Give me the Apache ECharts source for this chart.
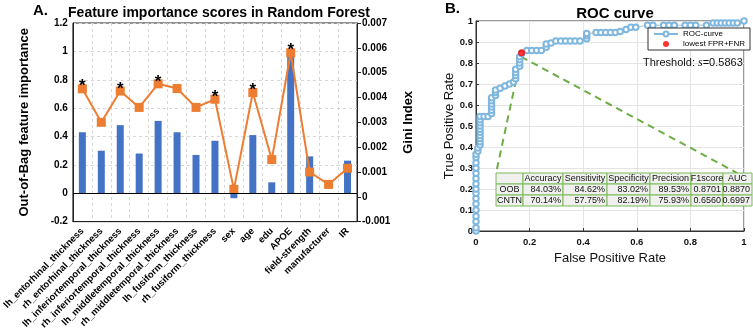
<!DOCTYPE html>
<html>
<head>
<meta charset="utf-8">
<script src="https://cdn.jsdelivr.net/npm/echarts@6/dist/echarts.min.js"></script>
<style>
  html, body { margin: 0; padding: 0; background: #fff; }
  #chart { width: 753px; height: 332px; }
</style>
</head>
<body>
<div id="chart"></div>
<script>
// panel A: feature importance
var featureNames = ['lh_entorhinal_thickness', 'rh_entorhinal_thickness', 'lh_inferiortemporal_thickness',
  'rh_inferiortemporal_thickness', 'lh_middletemporal_thickness', 'rh_middletemporal_thickness',
  'lh_fusiform_thickness', 'rh_fusiform_thickness', 'sex', 'age', 'edu', 'APOE',
  'field-strength', 'manufacturer', 'IR'];
var oobImportance = [0.43, 0.30, 0.48, 0.28, 0.51, 0.43, 0.27, 0.37, -0.035, 0.41, 0.077, 1.0, 0.26, 0, 0.23];
var giniIndex = [0.00435, 0.0030, 0.00426, 0.0036, 0.00455, 0.00436, 0.0036, 0.00393, 0.0003, 0.0042,
  0.0015, 0.0058, 0.0010, 0.0005, 0.00115];
var significant = [1, 0, 1, 0, 1, 0, 0, 1, 0, 1, 0, 1, 0, 0, 0];

// panel B: ROC curve
var rocFpr = [0, 0, 0, 0, 0, 0, 0, 0, 0, 0, 0, 0, 0, 0, 0, 0,
  0.007, 0.007,
  0.015, 0.015, 0.015, 0.015, 0.015, 0.015, 0.015, 0.015, 0.015, 0.015,
  0.03, 0.045,
  0.058, 0.058, 0.058, 0.058, 0.058, 0.058,
  0.073, 0.073, 0.073,
  0.09, 0.108, 0.125, 0.14,
  0.148, 0.148, 0.148, 0.148,
  0.163, 0.163, 0.163, 0.163, 0.17,
  0.19, 0.208, 0.226, 0.244,
  0.262, 0.262, 0.28, 0.298, 0.316, 0.334, 0.352, 0.37, 0.388,
  0.413, 0.413, 0.413,
  0.448, 0.466, 0.484, 0.502, 0.52, 0.538,
  0.56, 0.578, 0.596,
  0.64, 0.66, 0.70, 0.72, 0.74, 0.78, 0.80, 0.82, 0.86,
  0.885, 0.90, 0.915, 0.93, 0.945, 0.96, 0.975, 1];
var rocTpr = [0, 0.015, 0.045, 0.07, 0.1, 0.13, 0.155, 0.18, 0.2, 0.225, 0.25, 0.275, 0.3, 0.325, 0.35, 0.365,
  0.38, 0.395,
  0.41, 0.425, 0.44, 0.455, 0.47, 0.485, 0.5, 0.515, 0.53, 0.545,
  0.545, 0.545,
  0.56, 0.575, 0.59, 0.605, 0.62, 0.635,
  0.645, 0.66, 0.672,
  0.68, 0.69, 0.70, 0.71,
  0.725, 0.74, 0.755, 0.77,
  0.785, 0.80, 0.815, 0.83, 0.845,
  0.86, 0.86, 0.86, 0.86,
  0.875, 0.89, 0.895, 0.905, 0.905, 0.905, 0.905, 0.905, 0.905,
  0.915, 0.93, 0.94,
  0.945, 0.945, 0.945, 0.945, 0.945, 0.95,
  0.96, 0.97, 0.97,
  0.98, 0.98, 0.98, 0.98, 0.98, 0.98, 0.98, 0.98, 0.98,
  0.99, 0.99, 0.99, 0.99, 0.99, 0.99, 0.99, 1];
var bestPoint = [0.17, 0.849];
var calloutLeft = [[0.168, 0.83], [0.075, 0.276]];
var calloutRight = [[0.168, 0.83], [0.975, 0.276]];
var tableHeader = ['', 'Accuracy', 'Sensitivity', 'Specificity', 'Precision', 'F1score', 'AUC'];
var tableRows = [
  ['OOB', '84.03%', '84.62%', '83.02%', '89.53%', '0.8701', '0.8870'],
  ['CNTN', '70.14%', '57.75%', '82.19%', '75.93%', '0.6560', '0.6997']
];

var FONT = '"Liberation Sans", Arial, Helvetica, sans-serif';
var chart = echarts.init(document.getElementById('chart'));

function zip(xs, ys) {
  return xs.map(function (x, i) { return [x, ys[i]]; });
}

// table drawn as graphic cells
var colX = [496, 523, 563, 607, 650, 691, 723, 752];
var rowY = [173, 184, 195, 206];
var tableEls = [];
[tableHeader].concat(tableRows).forEach(function (row, r) {
  row.forEach(function (txt, c) {
    var x0 = colX[c], x1 = colX[c + 1], y0 = rowY[r], y1 = rowY[r + 1];
    tableEls.push({
      type: 'rect', shape: { x: x0, y: y0, width: x1 - x0, height: y1 - y0 },
      style: { fill: '#f0f1ee', stroke: '#7ab85a', lineWidth: 1 }, z: 100
    });
    var center = (r === 0 || c === 0);
    tableEls.push({
      type: 'text', z: 101,
      x: center ? (x0 + x1) / 2 : x1 - 2, y: (y0 + y1) / 2 + 0.5,
      style: { text: txt, font: '9px ' + FONT, fill: '#111', align: center ? 'center' : 'right', verticalAlign: 'middle' }
    });
  });
});

var option = {
  animation: false,
  backgroundColor: '#fff',
  textStyle: { fontFamily: FONT },
  title: [
    { text: 'Feature importance scores in Random Forest', left: 214, top: 1, textAlign: 'center',
      textStyle: { fontSize: 14, fontWeight: 'bold', color: '#000' } },
    { text: 'ROC curve', left: 610, top: 1, textAlign: 'center',
      textStyle: { fontSize: 15, fontWeight: 'bold', color: '#000' } }
  ],
  legend: {
    data: ['ROC-curve', 'lowest FPR+FNR'],
    orient: 'vertical', left: 648, top: 28, itemGap: 2, itemWidth: 24, itemHeight: 6,
    padding: [2, 5], backgroundColor: '#fff', borderColor: '#333', borderWidth: 1,
    textStyle: { fontSize: 8, color: '#000' }
  },
  grid: [
    { left: 67, right: 396, top: 23, bottom: 104, show: true, borderColor: '#222', borderWidth: 1 },
    { left: 476, right: 9, top: 21, bottom: 101, show: true, borderColor: '#333', borderWidth: 1, backgroundColor: '#fff' }
  ],
  xAxis: [
    {
      type: 'category', gridIndex: 0, data: featureNames,
      axisLine: { onZero: false, lineStyle: { color: '#222' } },
      axisTick: { show: false },
      axisLabel: { interval: 0, rotate: 45, fontSize: 9.5, fontWeight: 'bold', color: '#000', margin: 8 },
      splitLine: { show: true, interval: 0, lineStyle: { color: '#d6d6d6', type: [3, 3] } }
    },
    {
      type: 'value', gridIndex: 1, min: 0, max: 1, interval: 0.2,
      name: 'False Positive Rate', nameLocation: 'middle', nameGap: 19,
      nameTextStyle: { fontSize: 13, color: '#111' },
      axisLine: { lineStyle: { color: '#333' } },
      axisTick: { inside: true, length: 3, lineStyle: { color: '#333' } },
      axisLabel: { fontSize: 9.5, fontWeight: 'bold', color: '#111', margin: 6 },
      splitLine: { show: true, lineStyle: { color: '#e4e4e4' } }
    }
  ],
  yAxis: [
    {
      type: 'value', gridIndex: 0, min: -0.2, max: 1.2, interval: 0.2,
      name: 'Out-of-Bag feature importance', nameLocation: 'middle', nameGap: 42, nameRotate: 90,
      nameTextStyle: { fontSize: 13, fontWeight: 'bold', color: '#000' },
      axisLine: { show: true, lineStyle: { color: '#222' } },
      axisTick: { show: false },
      axisLabel: { fontSize: 10, fontWeight: 'bold', color: '#000', margin: 5 },
      splitLine: { show: true, lineStyle: { color: '#d6d6d6', type: [3, 3] } }
    },
    {
      type: 'value', gridIndex: 0, position: 'right', min: -0.001, max: 0.007, interval: 0.001,
      name: 'Gini Index', nameLocation: 'middle', nameGap: 45, nameRotate: 90,
      nameTextStyle: { fontSize: 13, fontWeight: 'bold', color: '#000' },
      axisLine: { show: true, lineStyle: { color: '#222' } },
      axisTick: { show: true, length: 4, lineStyle: { color: '#222' } },
      axisLabel: { fontSize: 10, fontWeight: 'bold', color: '#000', margin: 5 },
      splitLine: { show: false }
    },
    {
      type: 'value', gridIndex: 1, min: 0, max: 1, interval: 0.1,
      name: 'True Positive Rate', nameLocation: 'middle', nameGap: 14, nameRotate: 90,
      nameTextStyle: { fontSize: 13, color: '#111' },
      axisLine: { lineStyle: { color: '#333' } },
      axisTick: { inside: true, length: 3, lineStyle: { color: '#333' } },
      axisLabel: { fontSize: 9.5, fontWeight: 'bold', color: '#111', margin: 3 },
      splitLine: { show: true, lineStyle: { color: '#e4e4e4' } }
    }
  ],
  series: [
    {
      name: 'OOB', type: 'bar', xAxisIndex: 0, yAxisIndex: 0, data: oobImportance,
      barWidth: 7, itemStyle: { color: '#4472C4' },
      markLine: {
        silent: true, symbol: 'none', label: { show: false },
        lineStyle: { color: '#000', type: 'solid', width: 1 },
        data: [{ yAxis: 0 }]
      }
    },
    {
      name: 'Gini', type: 'line', xAxisIndex: 0, yAxisIndex: 1,
      data: giniIndex.map(function (v, i) {
        return significant[i] ? { value: v, label: { show: true } } : v;
      }),
      symbol: 'rect', symbolSize: 9,
      lineStyle: { color: '#ED7D31', width: 2 },
      itemStyle: { color: '#ED7D31' },
      label: { show: false, formatter: '*', position: 'top', distance: 0, offset: [0, 11], fontSize: 17, fontWeight: 'bold', color: '#000' },
      z: 3
    },
    {
      name: 'ROC-curve', type: 'line', xAxisIndex: 1, yAxisIndex: 2, data: zip(rocFpr, rocTpr),
      symbol: 'emptyCircle', symbolSize: 5.5, showAllSymbol: true,
      lineStyle: { color: '#80b7de', width: 0.8 },
      itemStyle: { color: '#80b7de', borderWidth: 0.7 }
    },
    {
      name: 'callout-left', type: 'line', xAxisIndex: 1, yAxisIndex: 2, data: calloutLeft,
      symbol: 'none', lineStyle: { color: '#6cad45', width: 2, type: [7, 5] }
    },
    {
      name: 'callout-right', type: 'line', xAxisIndex: 1, yAxisIndex: 2, data: calloutRight,
      symbol: 'none', lineStyle: { color: '#6cad45', width: 2, type: [7, 5] }
    },
    {
      name: 'lowest FPR+FNR', type: 'scatter', xAxisIndex: 1, yAxisIndex: 2, data: [bestPoint],
      symbol: 'circle', symbolSize: 7, itemStyle: { color: '#ff0000' }, z: 5
    }
  ],
  graphic: [
    { type: 'text', left: 33, top: 3, style: { text: 'A.', font: 'bold 15px ' + FONT, fill: '#000' } },
    { type: 'text', left: 445, top: 1, style: { text: 'B.', font: 'bold 15px ' + FONT, fill: '#000' } },
    {
      type: 'text', left: 643, top: 57, z: 50,
      style: {
        text: 'Threshold: {i|s}=0.5863', font: '11px ' + FONT, fill: '#111',
        rich: { i: { fontFamily: '"Liberation Serif", "Times New Roman", serif', fontStyle: 'italic', fontSize: 12 } }
      }
    }
  ].concat(tableEls)
};
chart.setOption(option);
</script>
</body>
</html>
